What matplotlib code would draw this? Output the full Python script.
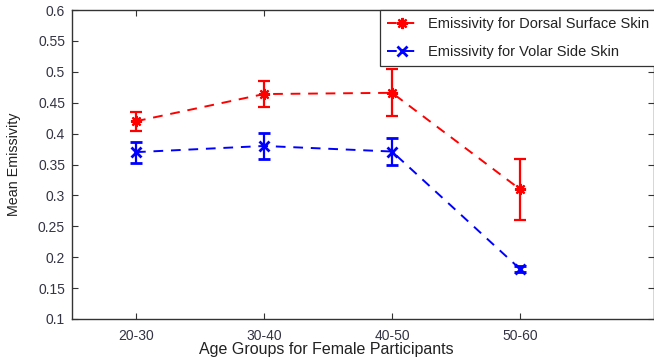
import matplotlib
matplotlib.use("Agg")
import matplotlib.pyplot as plt

categories = ["20-30", "30-40", "40-50", "50-60"]
dorsal_mean = [0.420, 0.464, 0.466, 0.310]
dorsal_err = [0.015, 0.021, 0.038, 0.049]
volar_mean = [0.370, 0.380, 0.371, 0.181]
volar_err = [0.017, 0.021, 0.022, 0.005]
yticks = [0.1, 0.15, 0.2, 0.25, 0.3, 0.35, 0.4, 0.45, 0.5, 0.55, 0.6]
ytick_labels = ["0.1", "0.15", "0.2", "0.25", "0.3", "0.35", "0.4", "0.45", "0.5", "0.55", "0.6"]

plt.rcParams['font.family'] = ['Liberation Sans', 'DejaVu Sans']

fig = plt.figure(figsize=(6.54, 3.64), dpi=100)
ax = fig.add_axes([72/654, 45/364, 582/654, 309/364])

x = list(range(1, len(categories) + 1))
e1 = ax.errorbar(x, dorsal_mean, yerr=dorsal_err, color='#ff0000', ls='--', lw=1.4,
                 marker=(8, 2, 0), ms=8, mew=1.6, elinewidth=1.6, capsize=4.5, capthick=1.6,
                 dashes=(5, 4))
e2 = ax.errorbar(x, volar_mean, yerr=volar_err, color='#0000ff', ls='--', lw=1.4,
                 marker='x', ms=6.5, mew=2, elinewidth=1.6, capsize=4.5, capthick=1.6,
                 dashes=(5, 4))

ax.set_xlim(0.5, 0.5 + 582/128)
ax.set_ylim(0.1, 0.6)
ax.set_xticks(x)
ax.set_xticklabels(categories)
ax.set_yticks(yticks)
ax.set_yticklabels(ytick_labels)
ax.tick_params(direction='in', length=4, width=0.8, top=True, right=True,
               labelsize=10, labelcolor='#333344', colors='#333333', pad=7)
ax.tick_params(axis='y', pad=5)
for s in ax.spines.values():
    s.set_color('#333333')
    s.set_linewidth(1.0)

ax.set_xlabel('Age Groups for Female Participants', fontsize=11.5, color='#222222')
ax.xaxis.set_label_coords((326 - 72) / 582, -0.075)
ax.set_ylabel('Mean Emissivity', fontsize=10.3, color='#222222', labelpad=12)

leg = ax.legend([e1[0], e2[0]],
                ['Emissivity for Dorsal Surface Skin', 'Emissivity for Volar Side Skin'],
                loc='upper left', bbox_to_anchor=((380 - 72) / 582, 1.0),
                borderaxespad=0, fancybox=False, edgecolor='#333333', framealpha=1,
                fontsize=10.5, handlelength=2.0, handletextpad=0.8, labelspacing=0.95,
                borderpad=0.5)
leg.get_frame().set_linewidth(0.9)
for t in leg.get_texts():
    t.set_color('#222222')

fig.savefig('out.png', dpi=100)
